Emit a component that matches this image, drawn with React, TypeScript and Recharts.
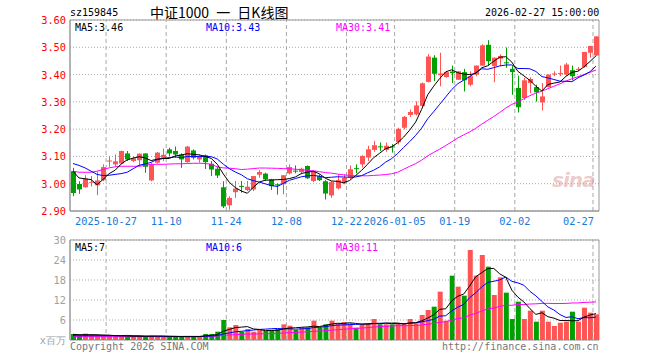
import React from "react";
import {
  ComposedChart,
  Bar,
  Line,
  XAxis,
  YAxis,
  CartesianGrid,
  ReferenceLine,
  ReferenceArea,
  Cell,
} from "recharts";

// trading days shown on the chart
const dates = [
  "2025-10-17", "2025-10-20", "2025-10-21", "2025-10-22", "2025-10-23", "2025-10-24",
  "2025-10-27", "2025-10-28", "2025-10-29", "2025-10-30", "2025-10-31",
  "2025-11-03", "2025-11-04", "2025-11-05", "2025-11-06", "2025-11-07",
  "2025-11-10", "2025-11-11", "2025-11-12", "2025-11-13", "2025-11-14",
  "2025-11-17", "2025-11-18", "2025-11-19", "2025-11-20", "2025-11-21",
  "2025-11-24", "2025-11-25", "2025-11-26", "2025-11-27", "2025-11-28",
  "2025-12-01", "2025-12-02", "2025-12-03", "2025-12-04", "2025-12-05",
  "2025-12-08", "2025-12-09", "2025-12-10", "2025-12-11", "2025-12-12",
  "2025-12-15", "2025-12-16", "2025-12-17", "2025-12-18", "2025-12-19",
  "2025-12-22", "2025-12-23", "2025-12-24", "2025-12-25", "2025-12-26",
  "2025-12-29", "2025-12-30", "2025-12-31",
  "2026-01-05", "2026-01-06", "2026-01-07", "2026-01-08", "2026-01-09",
  "2026-01-12", "2026-01-13", "2026-01-14", "2026-01-15", "2026-01-16",
  "2026-01-19", "2026-01-20", "2026-01-21", "2026-01-22", "2026-01-23",
  "2026-01-26", "2026-01-27", "2026-01-28", "2026-01-29", "2026-01-30",
  "2026-02-02", "2026-02-03", "2026-02-04", "2026-02-05", "2026-02-06",
  "2026-02-09", "2026-02-10", "2026-02-11", "2026-02-12", "2026-02-13",
  "2026-02-24", "2026-02-25", "2026-02-26", "2026-02-27",
];

const opens = [
  3.046, 2.999, 2.987, 3.005, 2.994, 3.013, 3.082, 3.071, 3.074, 3.111,
  3.083, 3.086, 3.111, 3.012, 3.077, 3.095, 3.126, 3.120, 3.107, 3.079,
  3.122, 3.089, 3.104, 3.073, 3.055, 2.987, 2.921, 2.969, 2.992, 2.977,
  2.979, 3.033, 3.037, 3.016, 2.998, 2.998, 3.038, 3.048, 3.043, 3.065,
  3.010, 3.028, 3.009, 2.957, 2.983, 3.001, 3.022, 3.057, 3.071, 3.096,
  3.124, 3.137, 3.124, 3.137, 3.152, 3.205, 3.252, 3.254, 3.285, 3.373,
  3.462, 3.398, 3.391, 3.411, 3.381, 3.409, 3.363, 3.400, 3.433, 3.509,
  3.431, 3.458, 3.445, 3.421, 3.351, 3.314, 3.369, 3.354, 3.298, 3.354,
  3.402, 3.403, 3.400, 3.416, 3.419, 3.428, 3.480, 3.470,
];
const highs = [
  3.058, 3.009, 3.031, 3.028, 3.044, 3.071, 3.099, 3.107, 3.121, 3.120,
  3.100, 3.111, 3.111, 3.076, 3.116, 3.129, 3.132, 3.136, 3.111, 3.138,
  3.126, 3.107, 3.107, 3.083, 3.062, 3.009, 2.954, 3.010, 3.010, 3.010,
  3.028, 3.050, 3.040, 3.018, 3.001, 3.031, 3.071, 3.067, 3.059, 3.067,
  3.047, 3.034, 3.013, 3.010, 3.034, 3.034, 3.067, 3.071, 3.104, 3.139,
  3.157, 3.151, 3.151, 3.145, 3.205, 3.248, 3.272, 3.302, 3.371, 3.475,
  3.471, 3.480, 3.412, 3.433, 3.412, 3.421, 3.412, 3.433, 3.511, 3.526,
  3.462, 3.474, 3.499, 3.431, 3.396, 3.388, 3.390, 3.363, 3.369, 3.400,
  3.412, 3.433, 3.443, 3.433, 3.428, 3.483, 3.505, 3.540,
];
const lows = [
  2.954, 2.963, 2.985, 2.990, 2.958, 3.009, 3.062, 3.064, 3.073, 3.083,
  3.079, 3.064, 3.040, 3.009, 3.074, 3.083, 3.101, 3.095, 3.058, 3.077,
  3.089, 3.077, 3.054, 3.028, 3.021, 2.911, 2.905, 2.948, 2.967, 2.973,
  2.973, 3.022, 3.010, 2.977, 2.960, 2.961, 3.034, 3.038, 3.034, 3.017,
  3.006, 3.010, 2.942, 2.948, 2.979, 2.998, 3.018, 3.038, 3.059, 3.083,
  3.117, 3.120, 3.117, 3.114, 3.144, 3.199, 3.245, 3.250, 3.279, 3.371,
  3.376, 3.357, 3.388, 3.369, 3.381, 3.338, 3.357, 3.394, 3.431, 3.433,
  3.372, 3.431, 3.425, 3.326, 3.261, 3.307, 3.332, 3.301, 3.268, 3.354,
  3.394, 3.394, 3.396, 3.379, 3.412, 3.425, 3.462, 3.468,
];
const closes = [
  2.966, 2.979, 3.019, 3.007, 3.012, 3.061, 3.085, 3.082, 3.120, 3.089,
  3.093, 3.110, 3.062, 3.070, 3.114, 3.106, 3.111, 3.107, 3.089, 3.136,
  3.095, 3.101, 3.079, 3.052, 3.030, 2.917, 2.948, 2.982, 2.989, 2.989,
  3.028, 3.043, 3.016, 2.991, 2.996, 3.031, 3.061, 3.045, 3.055, 3.020,
  3.047, 3.013, 2.964, 3.006, 3.013, 3.022, 3.053, 3.054, 3.102, 3.126,
  3.141, 3.135, 3.139, 3.134, 3.201, 3.245, 3.263, 3.287, 3.368, 3.466,
  3.403, 3.404, 3.409, 3.405, 3.412, 3.379, 3.394, 3.433, 3.507, 3.449,
  3.462, 3.468, 3.441, 3.409, 3.280, 3.379, 3.384, 3.335, 3.320, 3.400,
  3.404, 3.406, 3.437, 3.394, 3.421, 3.483, 3.505, 3.540,
];
// volume, millions of shares
const volumes = [
  1.8, 1.4, 1.9, 1.4, 1.4, 1.4, 1.2, 1.1, 1.2, 1.0,
  1.1, 1.2, 1.0, 1.3, 1.2, 1.1, 0.9, 0.9, 1.0, 1.2,
  1.0, 1.1, 1.8, 1.8, 2.5, 6.0, 3.8, 4.5, 2.5, 3.3,
  2.5, 3.0, 2.7, 3.0, 3.3, 4.7, 4.3, 3.0, 3.8, 3.8,
  5.8, 3.8, 4.7, 5.8, 5.0, 5.4, 5.0, 3.7, 4.7, 5.0,
  6.3, 4.7, 4.7, 4.7, 5.0, 5.0, 6.3, 5.0, 7.5, 9.0,
  10.0, 14.5, 5.8, 19.3, 16.0, 13.3, 27.0, 19.3, 25.5, 22.0,
  13.5, 18.8, 14.2, 6.3, 11.5, 6.3, 8.8, 5.5, 8.8, 5.5,
  4.2, 5.2, 5.5, 8.5, 5.5, 9.7, 8.2, 7.7,
];

// moving-average values before the window is full
const ma5Head = [3.046, 3.021, 3.018, 3.015];
const ma10Head = [3.074, 3.067, 3.058, 3.046, 3.034, 3.03, 3.031, 3.034, 3.037];
const ma30Head = [
  3.046, 3.042, 3.042, 3.042, 3.046, 3.052, 3.058, 3.062, 3.064, 3.064,
  3.064, 3.064, 3.067, 3.071, 3.071, 3.071, 3.072, 3.073, 3.073, 3.074,
  3.075, 3.075, 3.074, 3.071, 3.062, 3.058, 3.057, 3.055, 3.052,
];
const volMa5Head = [1.7, 1.6, 1.6, 1.6];
const volMa10Head = [1.3, 1.3, 1.3, 1.3, 1.3, 1.3, 1.3, 1.3, 1.3];
const volMa30Head = [
  1.0, 1.0, 1.0, 1.0, 1.0, 1.0, 1.0, 1.0, 1.0, 1.0,
  1.0, 1.0, 1.0, 1.0, 1.0, 1.0, 1.0, 1.0, 1.0, 1.0,
  1.0, 1.0, 1.1, 1.1, 1.2, 1.4, 1.5, 1.6, 1.7,
];

const tickDates = [
  "2025-10-27", "2025-11-10", "2025-11-24", "2025-12-08", "2025-12-22",
  "2026-01-05", "2026-01-19", "2026-02-02", "2026-02-27",
];
const tickLabels = [
  "2025-10-27", "11-10", "11-24", "12-08", "12-22",
  "2026-01-05", "01-19", "02-02", "02-27",
];
const priceTicks = [2.9, 3.0, 3.1, 3.2, 3.3, 3.4, 3.5, 3.6];
const volTicks = [0, 6, 12, 18, 24, 30];
const volTickLabels = ["x百万", "6", "12", "18", "24", "30"];

const priceLegend = [
  { text: "MA5:3.46", color: "#000000", left: 75 },
  { text: "MA10:3.43", color: "#0000ff", left: 206 },
  { text: "MA30:3.41", color: "#ff00ff", left: 336 },
];
const volLegend = [
  { text: "MA5:7", color: "#000000", left: 75 },
  { text: "MA10:6", color: "#0000ff", left: 206 },
  { text: "MA30:11", color: "#ff00ff", left: 336 },
];

const UP = "#ff5454";
const DOWN = "#00a000";
const GRID = "#a8a8a8";
const MONO = "'DejaVu Sans Mono', monospace";

const movingAvg = (vals: number[], n: number, head: number[]) =>
  vals.map((_, i) => {
    if (i < n - 1) return head[i];
    let s = 0;
    for (let k = i - n + 1; k <= i; k++) s += vals[k];
    return s / n;
  });

const ma5 = movingAvg(closes, 5, ma5Head);
const ma10 = movingAvg(closes, 10, ma10Head);
const ma30 = movingAvg(closes, 30, ma30Head);
const vma5 = movingAvg(volumes, 5, volMa5Head);
const vma10 = movingAvg(volumes, 10, volMa10Head);
const vma30 = movingAvg(volumes, 30, volMa30Head);

const data = dates.map((date, i) => ({
  date,
  open: opens[i],
  high: highs[i],
  low: lows[i],
  close: closes[i],
  range: [lows[i], highs[i]],
  vol: volumes[i],
  ma5: ma5[i],
  ma10: ma10[i],
  ma30: ma30[i],
  vma5: vma5[i],
  vma10: vma10[i],
  vma30: vma30[i],
}));

const Candle = (props: any) => {
  const { x, y, width, height, payload } = props;
  const { open, close, high, low } = payload;
  const top = Math.min(y, y + height);
  const h = Math.abs(height);
  const span = high - low;
  const toY = (p: number) => (span === 0 ? top : top + ((high - p) / span) * h);
  const color = close >= open ? UP : DOWN;
  const cx = Math.floor(x + width / 2) + 0.5;
  const bTop = toY(Math.max(open, close));
  const bBot = toY(Math.min(open, close));
  return (
    <g>
      <line x1={cx} x2={cx} y1={top} y2={top + h} stroke={color} strokeWidth={1} />
      <rect x={cx - 2.5} y={bTop} width={5} height={Math.max(1, bBot - bTop)} fill={color} />
    </g>
  );
};

const DateTick = (props: any) => {
  const { x, y, payload } = props;
  const idx = tickDates.indexOf(payload.value);
  const last = idx === tickDates.length - 1;
  const start = x - 3;
  return (
    <text
      x={last ? start + 1 : start}
      y={y + 14}
      textAnchor={last ? "end" : "middle"}
      fill="#1a78d8"
      fontSize={10.3}
      fontFamily={MONO}
    >
      {tickLabels[idx]}
    </text>
  );
};

const PriceTick = (props: any) => {
  const { y, payload } = props;
  return (
    <text x={66} y={y + 4} textAnchor="end" fill="#ff0000" fontSize={10.3} fontFamily={MONO}>
      {payload.value.toFixed(2)}
    </text>
  );
};

const VolTick = (props: any) => {
  const { y, payload } = props;
  const idx = volTicks.indexOf(payload.value);
  return (
    <text x={66} y={y + 4} textAnchor="end" fill="#a0a0a0" fontSize={10.3} fontFamily={MONO}>
      {volTickLabels[idx]}
    </text>
  );
};

const abs = (left: number, top: number): React.CSSProperties => ({
  position: "absolute",
  left,
  top,
  whiteSpace: "pre",
  lineHeight: 1,
});

export default function App() {
  return (
    <div
      style={{
        position: "absolute",
        left: 0,
        top: 0,
        width: 660,
        height: 360,
        background: "#fff",
        overflow: "hidden",
      }}
    >
      {/* header */}
      <div style={{ ...abs(70, 8), fontFamily: MONO, fontSize: 10, color: "#000" }}>sz159845</div>
      <div
        style={{
          ...abs(150, 5),
          fontFamily: "'Noto Sans CJK SC', sans-serif",
          fontSize: 14,
          color: "#000",
          wordSpacing: 4,
        }}
      >
        中证1000 一 日K线图
      </div>
      <div style={{ ...abs(485, 8), fontFamily: MONO, fontSize: 10, color: "#000" }}>2026-02-27 15:00:00</div>

      {/* price panel */}
      <div style={{ position: "absolute", left: 0, top: 0 }}>
        <ComposedChart width={660} height={232} data={data} margin={{ top: 20, right: 61, bottom: 0, left: 0 }}>
          <CartesianGrid vertical={false} stroke={GRID} strokeDasharray="1 2" />
          <XAxis
            dataKey="date"
            ticks={tickDates}
            interval={0}
            tick={<DateTick />}
            tickLine={false}
            tickSize={0}
            tickMargin={0}
            axisLine={{ stroke: "#999" }}
            height={21}
          />
          <YAxis
            domain={[2.9, 3.6]}
            ticks={priceTicks}
            interval={0}
            width={70}
            tick={<PriceTick />}
            tickLine={false}
            axisLine={{ stroke: "#999" }}
            allowDataOverflow
          />
          {tickDates.map((d) => (
            <ReferenceLine key={d} x={d} position="start" stroke={GRID} strokeDasharray="4 3" />
          ))}
          <Bar dataKey="range" barSize={5} shape={<Candle />} isAnimationActive={false} />
          <Line dataKey="ma30" stroke="#ff00ff" dot={false} strokeWidth={1} isAnimationActive={false} />
          <Line dataKey="ma10" stroke="#0000ff" dot={false} strokeWidth={1} isAnimationActive={false} />
          <Line dataKey="ma5" stroke="#000000" dot={false} strokeWidth={1} isAnimationActive={false} />
          <ReferenceArea y1={2.9} y2={3.6} fill="none" stroke="#999" ifOverflow="visible" />
        </ComposedChart>
      </div>
      {priceLegend.map((l) => (
        <div key={l.text} style={{ ...abs(l.left, 23), fontFamily: MONO, fontSize: 10, color: l.color }}>
          {l.text}
        </div>
      ))}

      {/* sina watermark */}
      <div
        style={{
          ...abs(552, 170),
          fontFamily: "'DejaVu Sans', sans-serif",
          fontWeight: "bold",
          fontStyle: "italic",
          fontSize: 20,
          color: "rgba(215,140,140,0.45)",
          letterSpacing: -1,
        }}
      >
        sina
      </div>

      {/* volume panel */}
      <div style={{ position: "absolute", left: 0, top: 230 }}>
        <ComposedChart width={660} height={130} data={data} margin={{ top: 10, right: 61, bottom: 20, left: 0 }}>
          <CartesianGrid vertical={false} stroke={GRID} strokeDasharray="1 2" />
          <XAxis dataKey="date" hide />
          <YAxis
            domain={[0, 30]}
            ticks={volTicks}
            interval={0}
            width={70}
            tick={<VolTick />}
            tickLine={false}
            axisLine={{ stroke: "#999" }}
          />
          {tickDates.map((d) => (
            <ReferenceLine key={d} x={d} position="start" stroke={GRID} strokeDasharray="4 3" />
          ))}
          <Bar dataKey="vol" barSize={5} isAnimationActive={false}>
            {data.map((d, i) => (
              <Cell key={i} fill={d.close >= d.open ? UP : DOWN} />
            ))}
          </Bar>
          <Line dataKey="vma30" stroke="#ff00ff" dot={false} strokeWidth={1} isAnimationActive={false} />
          <Line dataKey="vma10" stroke="#0000ff" dot={false} strokeWidth={1} isAnimationActive={false} />
          <Line dataKey="vma5" stroke="#000000" dot={false} strokeWidth={1} isAnimationActive={false} />
          <ReferenceArea y1={0} y2={30} fill="none" stroke="#999" ifOverflow="visible" />
        </ComposedChart>
      </div>
      {volLegend.map((l) => (
        <div key={l.text} style={{ ...abs(l.left, 243), fontFamily: MONO, fontSize: 10, color: l.color }}>
          {l.text}
        </div>
      ))}

      {/* footer */}
      <div style={{ ...abs(70, 342), fontFamily: MONO, fontSize: 10, color: "#777" }}>Copyright 2026 SINA.COM</div>
      <div style={{ ...abs(442, 342), fontFamily: MONO, fontSize: 10, color: "#777" }}>
        http://finance.sina.com.cn
      </div>
    </div>
  );
}
